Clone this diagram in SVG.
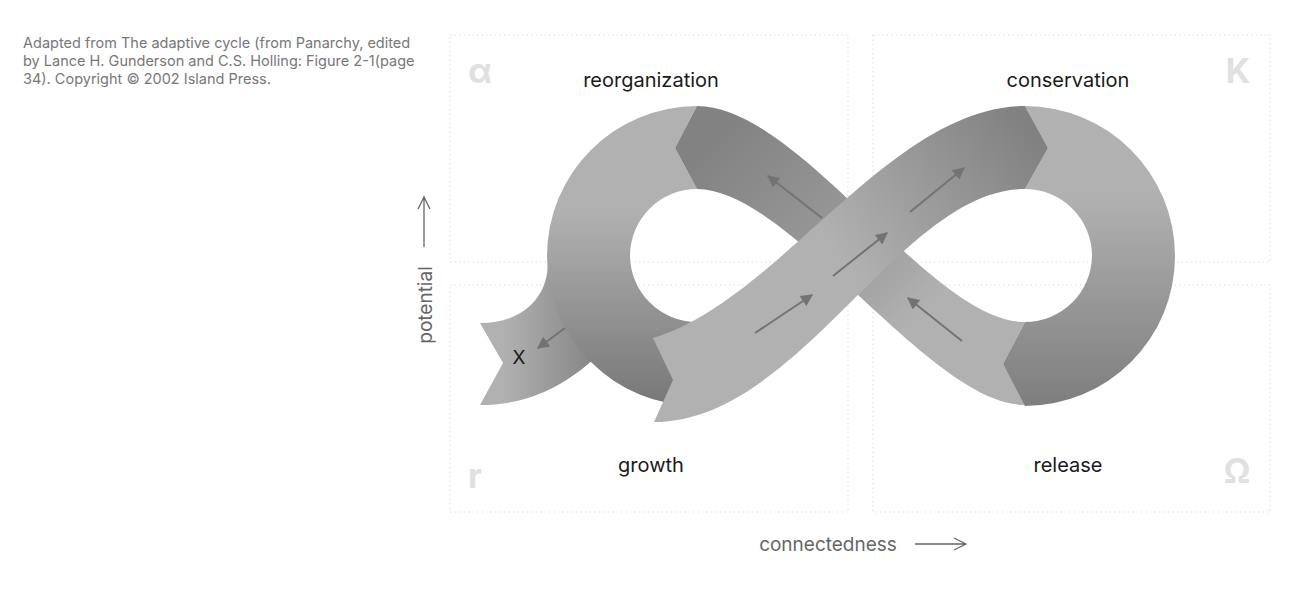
<svg xmlns="http://www.w3.org/2000/svg" width="1293" height="606" viewBox="0 0 1293 606">
<style>
.q{fill:none;stroke:#ddd;stroke-width:1;stroke-dasharray:1.5 3}
.lbl{font-family:Inter,"Liberation Sans",sans-serif;font-size:20px;fill:#1a1a1a;text-anchor:middle}
.gr{font-family:Inter,"Liberation Sans",sans-serif;font-size:34px;font-weight:bold;fill:#e0e0e0;text-anchor:middle}
.ax{font-family:Inter,"Liberation Sans",sans-serif;font-size:19px;fill:#666;text-anchor:middle}
.note{font-family:Inter,"Liberation Sans",sans-serif;font-size:14.5px;fill:#777}
.ar{stroke:#737373;stroke-width:2;fill:none;marker-end:url(#h)}
.axl{stroke:#666;stroke-width:1.3;fill:none}
</style>
<defs>
<marker id="h" viewBox="0 0 10 10" refX="9" refY="5" markerWidth="15" markerHeight="12" markerUnits="userSpaceOnUse" orient="auto"><path d="M0,0 L10,5 L0,10 Z" fill="#737373"/></marker>
<linearGradient id="gl" x1="0" y1="0" x2="0" y2="1"><stop offset="0.35" stop-color="#b1b1b1"/><stop offset="1" stop-color="#777"/></linearGradient>
<linearGradient id="gr" x1="0" y1="0" x2="0" y2="1"><stop offset="0.3" stop-color="#b1b1b1"/><stop offset="1" stop-color="#7e7e7e"/></linearGradient>
<linearGradient id="ga" gradientUnits="userSpaceOnUse" x1="720" y1="130" x2="960" y2="370"><stop offset="0" stop-color="#828282"/><stop offset="0.5" stop-color="#9a9a9a"/><stop offset="0.8" stop-color="#b1b1b1"/></linearGradient>
<linearGradient id="gb" gradientUnits="userSpaceOnUse" x1="700" y1="380" x2="1030" y2="130"><stop offset="0.45" stop-color="#b1b1b1"/><stop offset="1" stop-color="#818181"/></linearGradient>
<linearGradient id="gx" x1="0" y1="0" x2="1" y2="0"><stop offset="0.2" stop-color="#b1b1b1"/><stop offset="1" stop-color="#858585"/></linearGradient>
</defs>
<text class="note" x="23" y="48">Adapted from The adaptive cycle (from Panarchy, edited</text>
<text class="note" x="23" y="66">by Lance H. Gunderson and C.S. Holling: Figure 2-1(page</text>
<text class="note" x="23" y="84">34). Copyright © 2002 Island Press.</text>
<g id="quadrants">
<rect class="q" x="450" y="35" width="398" height="227"/>
<rect class="q" x="873" y="35" width="397" height="227"/>
<rect class="q" x="450" y="285" width="398" height="227"/>
<rect class="q" x="873" y="285" width="397" height="227"/>
</g>
<g id="greek">
<text class="gr" x="480" y="83">α</text>
<text class="gr" x="1238" y="83">K</text>
<text class="gr" x="475" y="488">r</text>
<text class="gr" x="1237" y="483">Ω</text>
</g>
<g id="tail"><path d="M548,262 C548,300 520,323 480,323 L503,363 L480,405 C530,405 565,385 595,358 L565,318 Z" fill="url(#gx)"/><text x="519" y="364" font-family="Inter,'Liberation Sans',sans-serif" font-size="19" fill="#1a1a1a" text-anchor="middle">X</text></g>
<g id="left-ring"><path d="M675,148 L697,106 A150,150 0 0 0 547,256 A150,150 0 0 0 697,406 L697,322 A67,67 0 0 1 630,255.5 A67,67 0 0 1 697,189 Z" fill="url(#gl)"/></g>
<g id="band-a"><path d="M697,106 C800,106 930,322 1025,322 L1003,364 L1025,405 C930,405 790,189 697,189 L675,148 Z" fill="url(#ga)"/></g>
<g id="right-ring"><path d="M1048,148 L1025,106 A150,150 0 0 1 1175,256 A150,150 0 0 1 1025,406 L1003,364 L1025,322 A67,67 0 0 0 1092,255.5 A67,67 0 0 0 1025,189 Z" fill="url(#gr)"/></g>
<g id="band-b"><path d="M653,338 C780,300 890,106 1025,106 L1048,148 L1025,189 C900,189 800,422 654,422 L673,380 Z" fill="url(#gb)"/></g>
<g id="connectors">
<line class="ar" x1="565" y1="328" x2="538" y2="348"/>
<line class="ar" x1="822" y1="218" x2="768" y2="176"/>
<line class="ar" x1="755" y1="333" x2="812" y2="295"/>
<line class="ar" x1="833" y1="276" x2="887" y2="233"/>
<line class="ar" x1="910" y1="212" x2="964" y2="168"/>
<line class="ar" x1="962" y1="341" x2="908" y2="298"/>
<path class="axl" d="M424,247 L424,197 M418,209 L424,197 L430,209"/>
<path class="axl" d="M915,544 L966,544 M954,538 L966,544 L954,550"/>
</g>
<g id="labels">
<text class="lbl" x="651" y="87">reorganization</text>
<text class="lbl" x="1068" y="87">conservation</text>
<text class="lbl" x="651" y="472">growth</text>
<text class="lbl" x="1068" y="472">release</text>
<text class="ax" x="828" y="551">connectedness</text>
<text class="ax" transform="translate(432,305) rotate(-90)">potential</text>
</g>
</svg>
